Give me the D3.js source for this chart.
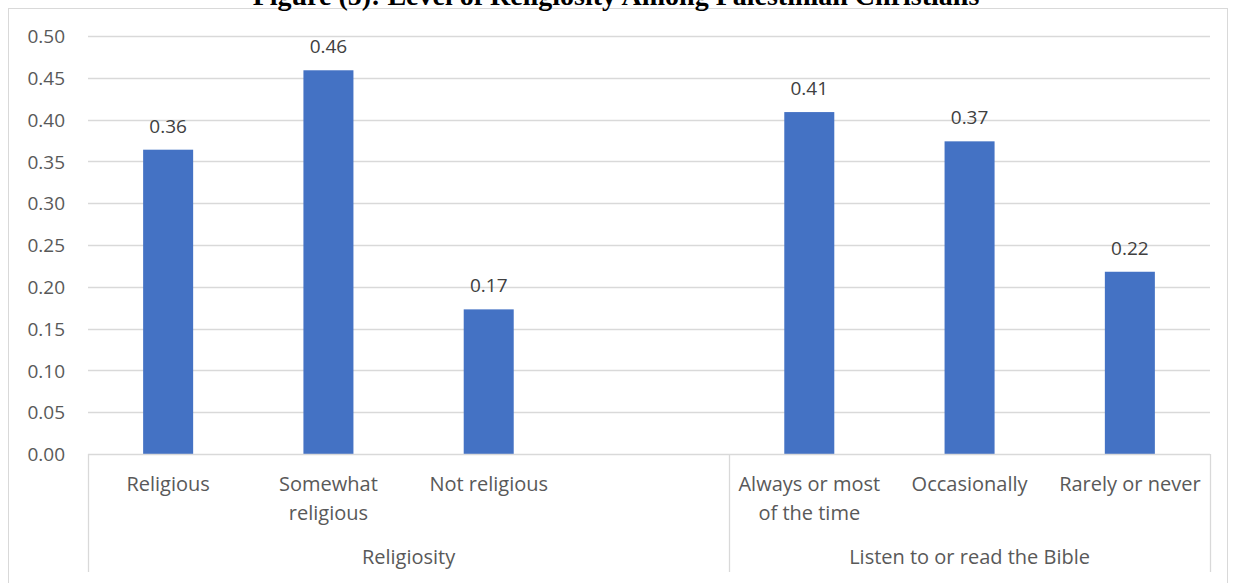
<!DOCTYPE html>
<html>
<head>
<meta charset="utf-8">
<script src="https://cdn.jsdelivr.net/npm/d3@7"></script>
<style>
  html, body { margin: 0; padding: 0; background: #fff; }
  svg { display: block; }
</style>
</head>
<body>
<svg id="chart" width="1236" height="583"></svg>
<script>
// ---- data ----
const titleText = "Figure (5): Level of Religiosity Among Palestinian Christians";
const groupNames = ["Religiosity", "Listen to or read the Bible"];
const religiosityCategories = [["Religious"], ["Somewhat", "religious"], ["Not religious"]];
const religiosityValues = [0.364, 0.459, 0.173];
const bibleCategories = [["Always or most", "of the time"], ["Occasionally"], ["Rarely or never"]];
const bibleValues = [0.409, 0.374, 0.218];
const yTicks = [0, 0.05, 0.10, 0.15, 0.20, 0.25, 0.30, 0.35, 0.40, 0.45, 0.50];

// slots: group A, spacer, group B
const slots = [];
religiosityCategories.forEach((c, i) => slots.push({ key: "a" + i, lines: c, value: religiosityValues[i], group: 0 }));
slots.push({ key: "gap", lines: [], value: null, group: 0 });
bibleCategories.forEach((c, i) => slots.push({ key: "b" + i, lines: c, value: bibleValues[i], group: 1 }));

const svg = d3.select("#chart");
const font = "'Open Sans', Lato, sans-serif";

const plot = { left: 88, right: 1210, top: 36, bottom: 454 };

const x = d3.scaleBand()
  .domain(slots.map(d => d.key))
  .range([plot.left, plot.right])
  .paddingInner(0.688)
  .paddingOuter(0.344);

const y = d3.scaleLinear().domain([0, 0.5]).range([plot.bottom, plot.top]);

// chart frame
svg.append("rect")
  .attr("x", 8.5).attr("y", 8.5)
  .attr("width", 1219).attr("height", 600)
  .attr("fill", "none").attr("stroke", "#d9d9d9").attr("stroke-width", 1);

// title (clipped at top, as in the reference)
svg.append("text")
  .attr("x", 616).attr("y", 5)
  .attr("text-anchor", "middle")
  .attr("font-family", "'Liberation Serif', 'Times New Roman', serif")
  .attr("font-weight", "bold")
  .attr("font-size", 28)
  .attr("fill", "#000")
  .text(titleText);

// gridlines
svg.append("g")
  .selectAll("line")
  .data(yTicks.filter(t => t > 0))
  .join("line")
  .attr("x1", plot.left).attr("x2", plot.right)
  .attr("y1", d => Math.round(y(d)) + 0.5).attr("y2", d => Math.round(y(d)) + 0.5)
  .attr("stroke", "#d9d9d9").attr("stroke-width", 1.3);

// y axis labels
const yAxis = d3.axisLeft(y).tickValues(yTicks).tickFormat(d3.format(".2f")).tickSize(0).tickPadding(0);
const yg = svg.append("g").attr("transform", `translate(${65},0)`).call(yAxis);
yg.select(".domain").remove();
yg.selectAll("text")
  .attr("font-family", font).attr("font-size", 19).attr("fill", "#595959")
  .attr("dy", "0.35em");

// bars
const barData = slots.filter(d => d.value !== null);
svg.append("g")
  .selectAll("rect")
  .data(barData)
  .join("rect")
  .attr("x", d => x(d.key))
  .attr("width", x.bandwidth())
  .attr("y", d => y(d.value))
  .attr("height", d => y(0) - y(d.value))
  .attr("fill", "#4472c4");

// data labels
svg.append("g")
  .selectAll("text")
  .data(barData)
  .join("text")
  .attr("x", d => x(d.key) + x.bandwidth() / 2)
  .attr("y", d => y(d.value) - 17)
  .attr("text-anchor", "middle")
  .attr("font-family", font).attr("font-size", 19).attr("fill", "#404040")
  .text(d => d3.format(".2f")(d.value));

// category axis line
svg.append("line")
  .attr("x1", plot.left).attr("x2", plot.right)
  .attr("y1", plot.bottom + 0.5).attr("y2", plot.bottom + 0.5)
  .attr("stroke", "#d9d9d9").attr("stroke-width", 1.3);

// group separators
const step = x.step();
const sepX = [plot.left, x("b0") - x.paddingInner() * step / 2, plot.right];
svg.append("g")
  .selectAll("line")
  .data(sepX)
  .join("line")
  .attr("x1", d => Math.round(d) + 0.5).attr("x2", d => Math.round(d) + 0.5)
  .attr("y1", plot.bottom).attr("y2", 572)
  .attr("stroke", "#d9d9d9").attr("stroke-width", 1.3);

// category labels
const catG = svg.append("g")
  .selectAll("text")
  .data(slots.filter(d => d.lines.length))
  .join("text")
  .attr("text-anchor", "middle")
  .attr("font-family", font).attr("font-size", 20).attr("fill", "#595959");
catG.each(function(d) {
  const t = d3.select(this);
  d.lines.forEach((ln, i) => {
    t.append("tspan")
      .attr("x", x(d.key) + x.bandwidth() / 2)
      .attr("y", 491 + i * 28.5)
      .text(ln);
  });
});

// group labels
const groupCenters = [
  (plot.left + sepX[1]) / 2,
  (sepX[1] + plot.right) / 2
];
svg.append("g")
  .selectAll("text")
  .data(groupNames)
  .join("text")
  .attr("x", (d, i) => groupCenters[i])
  .attr("y", 564)
  .attr("text-anchor", "middle")
  .attr("font-family", font).attr("font-size", 20).attr("fill", "#595959")
  .text(d => d);
</script>
</body>
</html>
